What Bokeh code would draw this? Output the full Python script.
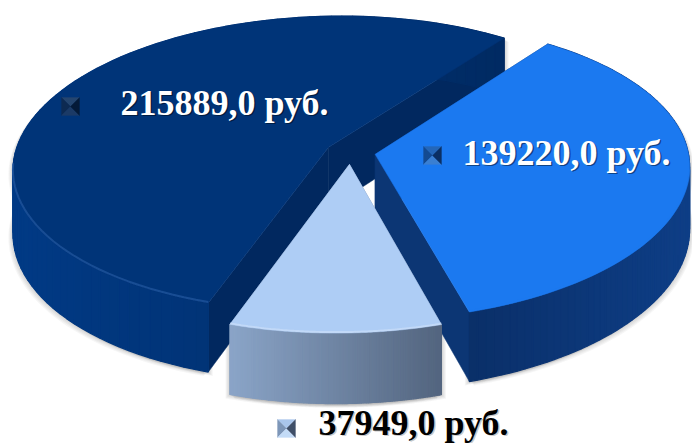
import math
from bokeh.plotting import figure
from bokeh.models import Range1d
from bokeh.core.properties import value
from bokeh.embed import file_html
from bokeh.resources import INLINE

# data
amounts = [215889.0, 139220.0, 37949.0]
top_colors = ["#003478", "#1b79f0", "#aecdf5"]
rim_colors = ["#2f66b0", "#1b79f0", "#d6e6fb"]
cut_colors = ["#01285f", "#0c3674", "#6d83a3"]
wall_left = ["#013a85", "#0a2f68", "#8ba5c8"]
wall_right = ["#002a62", "#0e3e86", "#53657f"]
label_colors = ["white", "white", "black"]
key_colors = [("#24456f", "#0d2a52", "#1b3a66", "#041a38"),
              ("#2466b8", "#134a92", "#3a7fd2", "#0b2f63"),
              ("#a9c6ec", "#7d96b8", "#c3dbf7", "#3f4f68")]

# layout (screen pixels)
START = 197.5
EXPLODE = 0.08
X0, Y0, A, B, S, P, H = 350.0, 152.0, 147.0, 313.0, -12.0, 0.112, 62.0
LABEL_POS = [(120, 102), (462, 152), (318, 422)]
KEY_POS = [(70, 106), (432, 155), (286, 428)]
KEY_HALF = 9

W, H_PAGE = 692, 443
p = figure(width=W, height=H_PAGE, output_backend="svg", toolbar_location=None,
           x_range=Range1d(0, W), y_range=Range1d(H_PAGE, 0),
           min_border=0, outline_line_color=None, background_fill_color="white")
p.axis.visible = False
p.grid.visible = False


def proj(u, v, z=0.0):
    w = 1 - P * v
    return X0 + (B * u + S * v) / w, Y0 + A * v / w + z / w


def unit(t):
    r = math.radians(t)
    return math.sin(r), -math.cos(r)


def mix(c1, c2, f):
    a = [int(c1[i:i + 2], 16) for i in (1, 3, 5)]
    b = [int(c2[i:i + 2], 16) for i in (1, 3, 5)]
    return "#%02x%02x%02x" % tuple(round(x + (y - x) * f) for x, y in zip(a, b))


total = sum(amounts)
slices = []
a = START
for val in amounts:
    sweep = 360 * val / total
    slices.append((a, a + sweep))
    a += sweep


def arc(a0, a1, off, n=90):
    return [(off[0] + unit(a0 + (a1 - a0) * i / n)[0],
             off[1] + unit(a0 + (a1 - a0) * i / n)[1]) for i in range(n + 1)]


# soft shadows below the walls
for a0, a1 in slices:
    mid = unit((a0 + a1) / 2)
    off = (mid[0] * EXPLODE, mid[1] * EXPLODE)
    pts = arc(a0, a1, off)
    xs = [proj(u, v, 0)[0] for u, v in pts] + [proj(u, v, H)[0] for u, v in reversed(pts)]
    ys = [proj(u, v, 0)[1] for u, v in pts] + [proj(u, v, H)[1] for u, v in reversed(pts)]
    for d in (1, 2, 3, 4, 5):
        for sx in (-1, 1):
            p.patch([x + sx * d * 0.9 for x in xs], [y + d * 0.8 for y in ys],
                    fill_color="#555555", fill_alpha=0.05, line_color=None)

for i, (a0, a1) in enumerate(slices):
    mid = unit((a0 + a1) / 2)
    off = (mid[0] * EXPLODE, mid[1] * EXPLODE)
    pts = arc(a0, a1, off)
    apex = off
    # cut faces
    for end in (pts[0], pts[-1]):
        fx = [proj(*apex)[0], proj(*end)[0], proj(*end, H)[0], proj(*apex, H)[0]]
        fy = [proj(*apex)[1], proj(*end)[1], proj(*end, H)[1], proj(*apex, H)[1]]
        p.patch(fx, fy, fill_color=cut_colors[i], line_color=cut_colors[i], line_width=0.5)
    # outer wall, shaded along its length
    xs_q, ys_q, cols = [], [], []
    x_min = min(proj(*q)[0] for q in pts)
    x_max = max(proj(*q)[0] for q in pts)
    for j in range(len(pts) - 1):
        q0, q1 = pts[j], pts[j + 1]
        xs_q.append([proj(*q0)[0], proj(*q1)[0], proj(*q1, H)[0], proj(*q0, H)[0]])
        ys_q.append([proj(*q0)[1], proj(*q1)[1], proj(*q1, H)[1], proj(*q0, H)[1]])
        f = (proj(*q0)[0] - x_min) / (x_max - x_min)
        cols.append(mix(wall_left[i], wall_right[i], f))
    p.patches(xs_q, ys_q, fill_color=cols, line_color=cols, line_width=1.2)
    # top face
    tx = [proj(*apex)[0]] + [proj(*q)[0] for q in pts]
    ty = [proj(*apex)[1]] + [proj(*q)[1] for q in pts]
    p.patch(tx, ty, fill_color=top_colors[i], line_color=top_colors[i], line_width=0.5)
    # lit rim on the part of the edge facing the viewer
    rx = [proj(*q)[0] for q in pts if q[1] > off[1] + 0.1]
    ry = [proj(*q)[1] - 1 for q in pts if q[1] > off[1] + 0.1]
    p.line(rx, ry, line_color=rim_colors[i], line_width=2, line_alpha=0.5)

# labels and bevelled legend keys
for i, val in enumerate(amounts):
    txt = f"{val:.1f}".replace(".", ",") + " руб."
    lx, ly = LABEL_POS[i]
    shadow = "#000000" if i < 2 else "#888888"
    p.text([lx + 1.5], [ly + 1.5], text=[txt], text_font=value("Liberation Serif"),
           text_font_style="bold", text_font_size="36px", text_baseline="middle",
           text_color=shadow, text_alpha=0.45)
    p.text([lx], [ly], text=[txt], text_font=value("Liberation Serif"),
           text_font_style="bold", text_font_size="36px", text_baseline="middle",
           text_color=label_colors[i])
    cx, cy = KEY_POS[i]
    k = KEY_HALF
    corners = [(cx - k, cy - k), (cx + k, cy - k), (cx + k, cy + k), (cx - k, cy + k)]
    order = [(0, 1, key_colors[i][0]), (3, 0, key_colors[i][1]),
             (2, 3, key_colors[i][2]), (1, 2, key_colors[i][3])]
    for c0, c1, col in order:
        p.patch([corners[c0][0], corners[c1][0], cx], [corners[c0][1], corners[c1][1], cy],
                fill_color=col, line_color=col, line_width=0.3)

open("out.html", "w").write(file_html(p, INLINE))
